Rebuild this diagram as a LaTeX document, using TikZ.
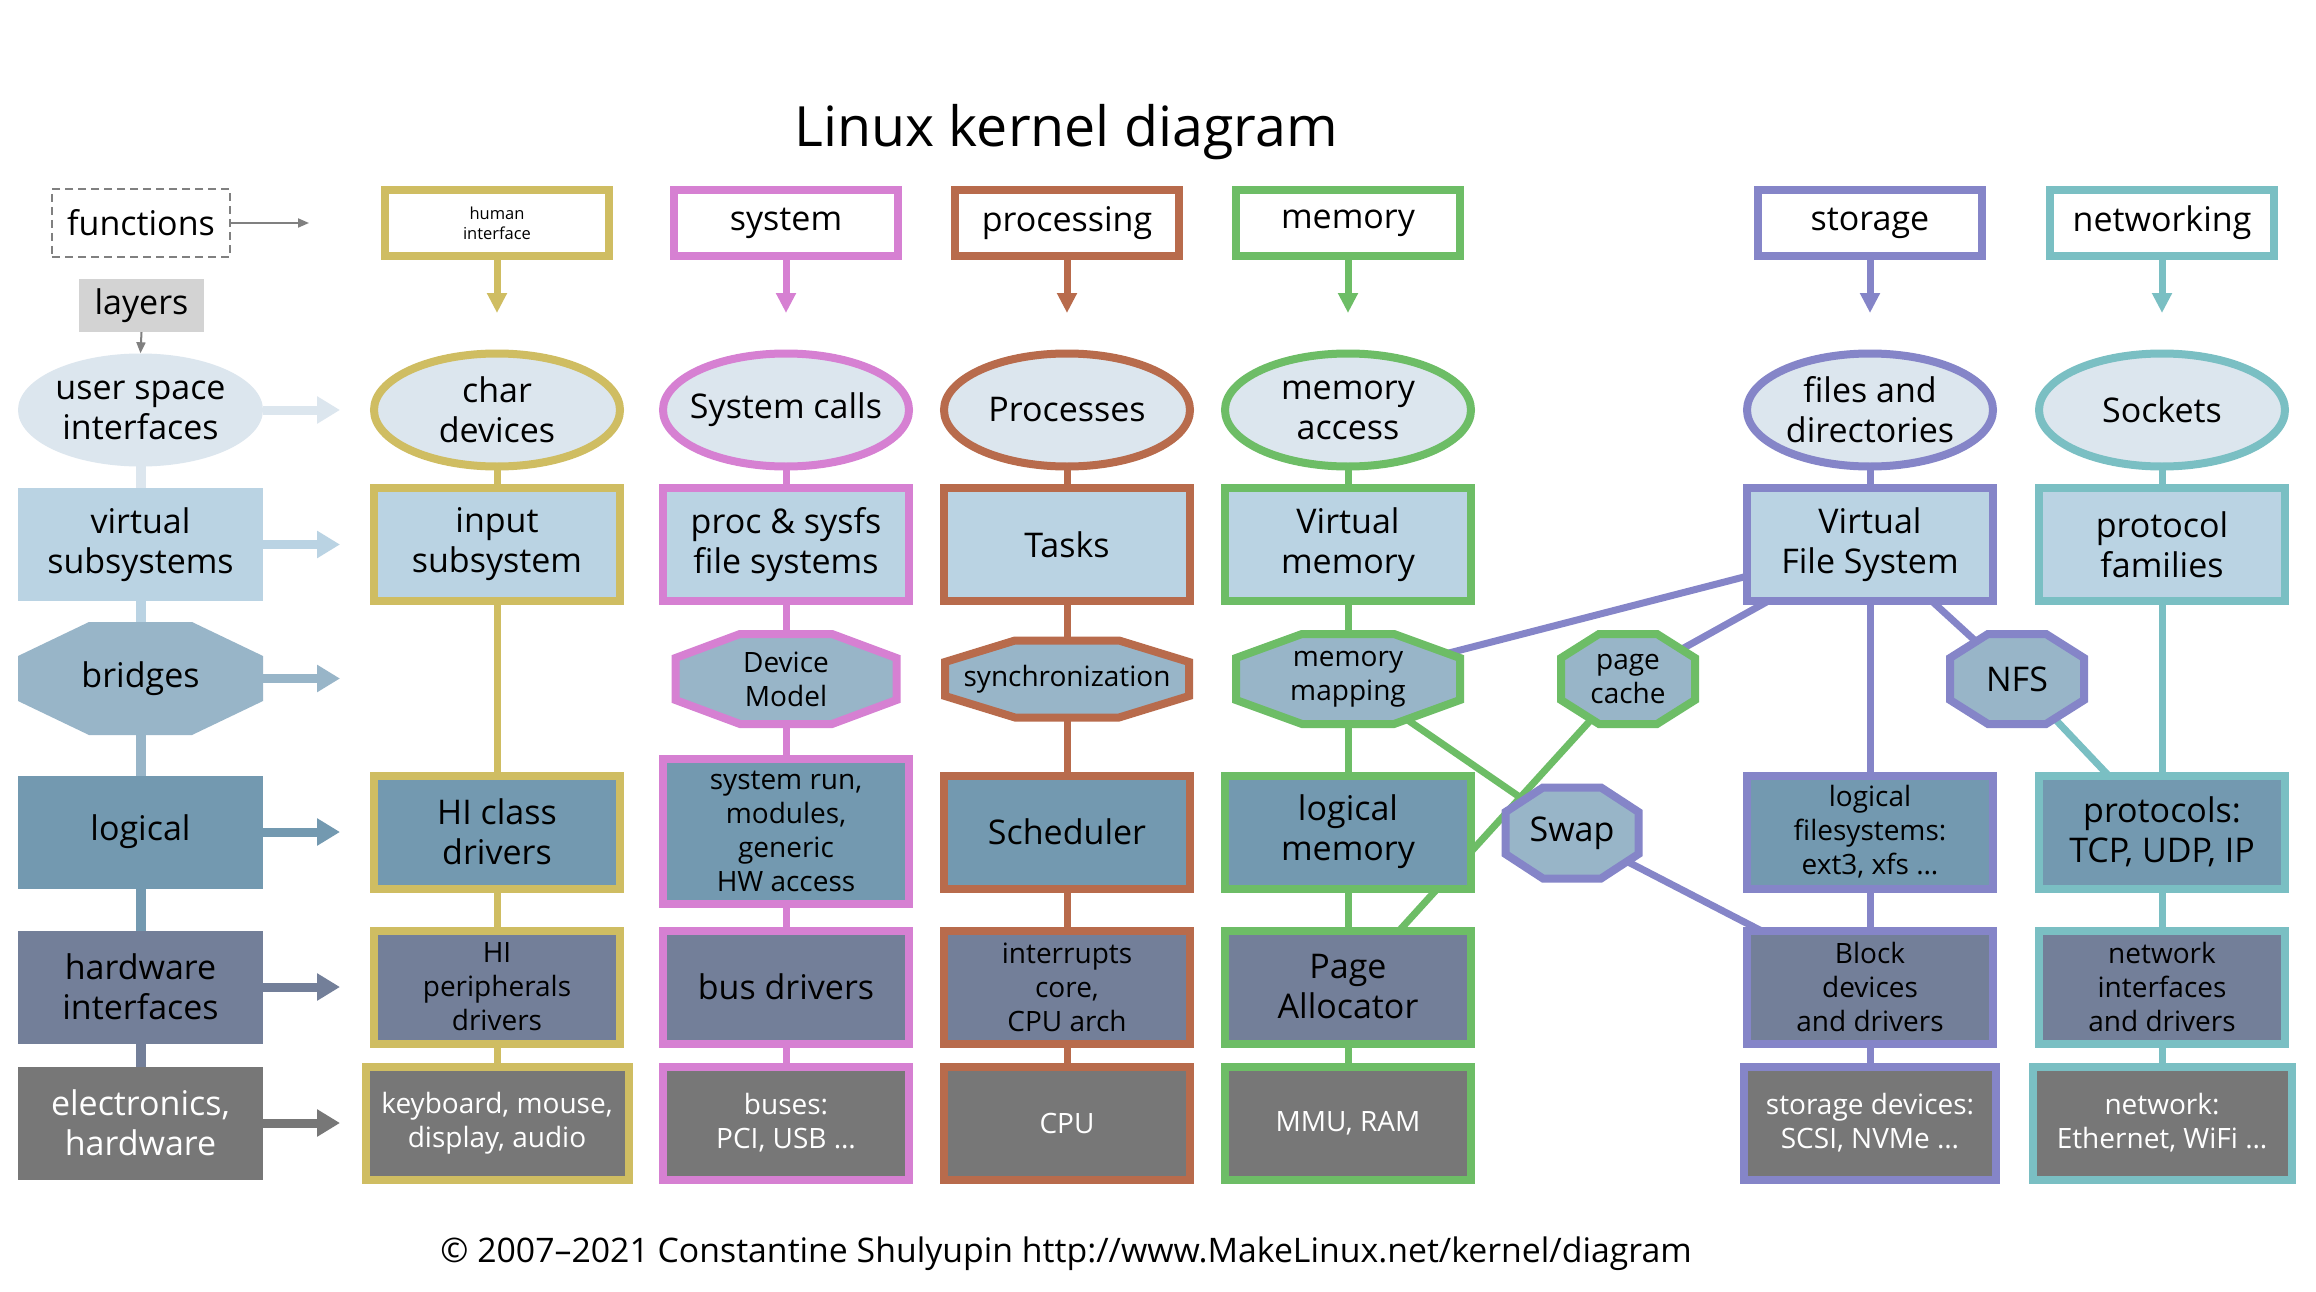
\documentclass[tikz,border=0pt]{standalone}
\usepackage{fontspec}
\setmainfont{Open Sans}
\usetikzlibrary{arrows.meta,shapes.geometric}
\definecolor{cHI}{HTML}{CFBD62}
\definecolor{cSYS}{HTML}{D680D2}
\definecolor{cPROC}{HTML}{B86B4C}
\definecolor{cMEM}{HTML}{6DBD66}
\definecolor{cSTO}{HTML}{8585C8}
\definecolor{cNET}{HTML}{7ABFC3}
\definecolor{fUser}{HTML}{DCE6EE}
\definecolor{fVirt}{HTML}{BAD3E3}
\definecolor{fBridge}{HTML}{98B5C8}
\definecolor{fLogic}{HTML}{7399B0}
\definecolor{fHW}{HTML}{737F99}
\definecolor{fElec}{HTML}{777777}
\definecolor{fLayers}{HTML}{D3D3D3}
\definecolor{fGrayLine}{HTML}{808080}
\pgfdeclarelayer{conn}
\pgfdeclarelayer{shapes}
\pgfsetlayers{conn,shapes,main}
% octagon: name, (x,y), half width, half height, inner half width, inner half height, path style, node style, text
\newcommand\octo[9]{%
  \node[base,#8,minimum width={2*#3pt},minimum height={2*#4pt}] (#1) at (#2) {#9};
  \begin{pgfonlayer}{shapes}
  \path[#7, shift={(#1.center)}] (-#5pt,#4pt) -- (#5pt,#4pt) -- (#3pt,#6pt) -- (#3pt,-#6pt)
     -- (#5pt,-#4pt) -- (-#5pt,-#4pt) -- (-#3pt,-#6pt) -- (-#3pt,#6pt) -- cycle;
  \end{pgfonlayer}}
\tikzset{
  ftbig/.style={font=\fontsize{34}{40}\selectfont},
  ftsmall/.style={font=\fontsize{28}{34}\selectfont},
  fttiny/.style={font=\fontsize{16.5}{20}\selectfont},
  fttitle/.style={font=\fontsize{55.5}{66}\selectfont},
  ftfoot/.style={font=\fontsize{33.8}{40}\selectfont},
  base/.style={align=center, inner sep=0pt, text=black},
  topbox/.style={base, ftbig, rectangle, draw=#1, line width=8pt, fill=white, minimum width=224pt, minimum height=66pt},
  ell/.style={base, ftbig, ellipse, draw=#1, line width=8pt, fill=fUser, minimum width=246pt, minimum height=113pt, inner sep=-12pt},
  cbox/.style={base, ftbig, rectangle, draw=#1, line width=8pt, minimum width=246pt, minimum height=113pt},
  layerbox/.style={base, ftbig, rectangle, minimum width=245pt, minimum height=113pt},
  octpath/.style={draw=#1, line width=8pt, fill=fBridge},
  cline/.style={draw=#1, line width=7pt},
  lline/.style={draw=#1, line width=10pt},
  tarrow/.style={draw=#1, line width=7pt, -{Triangle[length=20pt,width=19pt]}},
  larrow/.style={draw=#1, line width=9pt, -{Triangle[length=23pt,width=26pt]}},
  thinarrow/.style={draw=fGrayLine, line width=2pt, -{Triangle[length=11pt,width=9pt]}},
}
\begin{document}
\begin{tikzpicture}[x=1pt,y=-1pt]
\useasboundingbox (0,0) rectangle (2316,1292);
\begin{pgfonlayer}{conn}
\fill[white] (0,0) rectangle (2316,1292);
\end{pgfonlayer}

% title and footer
\node[base, fttitle] (title) at (1066,132) {Linux kernel diagram};
\node[base, ftfoot] (footer) at (1066,1254) {© 2007–2021 Constantine Shulyupin http://www.MakeLinux.net/kernel/diagram};

% legend
\node[base, ftbig, draw=fGrayLine, dashed, dash pattern=on 8pt off 5pt, line width=2pt, minimum width=178pt, minimum height=68pt] (functions) at (141,223) {functions};
\coordinate (fa) at (309,223);
\draw[thinarrow] (functions.east) -- (fa);
\node[base, ftbig, fill=fLayers, minimum width=125pt, minimum height=53pt] (layers) at (141.5,305.5) {layers};

% layer column
\node[layerbox, ellipse, fill=fUser, inner sep=-12pt] (lU) at (140.5,410) {user space\\interfaces};
\node[layerbox, fill=fVirt] (lV) at (140.5,544.5) {virtual\\subsystems};
\octo{lB}{140.5,678.5}{122.5}{56.5}{51.5}{22.5}{fill=fBridge}{ftbig}{bridges}
\node[layerbox, fill=fLogic] (lL) at (140.5,832) {logical};
\node[layerbox, fill=fHW] (lH) at (140.5,987) {hardware\\interfaces};
\node[layerbox, fill=fElec, text=white] (lE) at (140.5,1123) {electronics,\\hardware};
\draw[thinarrow] (layers.south) -- (lU.north);

\coordinate (aU) at (340,410);
\coordinate (aV) at (340,544.5);
\coordinate (aB) at (340,678.5);
\coordinate (aL) at (340,832);
\coordinate (aH) at (340,987);
\coordinate (aE) at (340,1123);
\draw[larrow=fUser] (lU.east) -- (aU);
\draw[larrow=fVirt] (lV.east) -- (aV);
\draw[larrow=fBridge] (lB.east) -- (aB);
\draw[larrow=fLogic] (lL.east) -- (aL);
\draw[larrow=fHW] (lH.east) -- (aH);
\draw[larrow=fElec] (lE.east) -- (aE);

% human interface column
\node[topbox=cHI, fttiny] (tHI) at (497,223) {human\\interface};
\coordinate (aHI) at (497,313);
\draw[tarrow=cHI] (tHI.south) -- (aHI);
\node[ell=cHI] (eHI) at (497,410) {char\\devices};
\node[cbox=cHI, fill=fVirt] (vHI) at (497,544.5) {input\\subsystem};
\node[cbox=cHI, fill=fLogic] (gHI) at (497,832) {HI class\\drivers};
\node[cbox=cHI, fill=fHW, ftsmall] (pHI) at (497,987) {HI\\peripherals\\drivers};
\node[cbox=cHI, fill=fElec, ftsmall, text=white, minimum width=263pt] (xHI) at (497,1123) {keyboard, mouse,\\display, audio};

% system column
\node[topbox=cSYS] (tSYS) at (786,223) {system};
\coordinate (aSYS) at (786,313);
\draw[tarrow=cSYS] (tSYS.south) -- (aSYS);
\node[ell=cSYS] (eSYS) at (786,410) {System calls};
\node[cbox=cSYS, fill=fVirt] (vSYS) at (786,544.5) {proc \& sysfs\\file systems};
\octo{bSYS}{786,679}{110.5}{45}{46}{21}{octpath=cSYS}{ftsmall}{Device\\Model}
\node[cbox=cSYS, fill=fLogic, ftsmall, minimum height=145pt] (gSYS) at (786,831.5) {system run,\\modules,\\generic\\HW access};
\node[cbox=cSYS, fill=fHW] (pSYS) at (786,987) {bus drivers};
\node[cbox=cSYS, fill=fElec, ftsmall, text=white] (xSYS) at (786,1123) {buses:\\PCI, USB …};

% processing column
\node[topbox=cPROC] (tPROC) at (1067,223) {processing};
\coordinate (aPROC) at (1067,313);
\draw[tarrow=cPROC] (tPROC.south) -- (aPROC);
\node[ell=cPROC] (ePROC) at (1067,410) {Processes};
\node[cbox=cPROC, fill=fVirt] (vPROC) at (1067,544.5) {Tasks};
\octo{bPROC}{1067,679}{122}{38.5}{52}{17}{octpath=cPROC}{ftsmall}{synchronization}
\node[cbox=cPROC, fill=fLogic] (gPROC) at (1067,832) {Scheduler};
\node[cbox=cPROC, fill=fHW, ftsmall] (pPROC) at (1067,987) {interrupts\\core,\\CPU arch};
\node[cbox=cPROC, fill=fElec, ftsmall, text=white] (xPROC) at (1067,1123) {CPU};

% memory column
\node[topbox=cMEM] (tMEM) at (1348,223) {memory};
\coordinate (aMEM) at (1348,313);
\draw[tarrow=cMEM] (tMEM.south) -- (aMEM);
\node[ell=cMEM] (eMEM) at (1348,410) {memory\\access};
\node[cbox=cMEM, fill=fVirt] (vMEM) at (1348,544.5) {Virtual\\memory};
\octo{bMEM}{1348,679}{112}{45}{46}{21}{octpath=cMEM}{ftsmall}{memory\\mapping}
\node[cbox=cMEM, fill=fLogic] (gMEM) at (1348,832) {logical\\memory};
\node[cbox=cMEM, fill=fHW] (pMEM) at (1348,987) {Page\\Allocator};
\node[cbox=cMEM, fill=fElec, ftsmall, text=white] (xMEM) at (1348,1123) {MMU, RAM};

% in-between nodes
\octo{bPC}{1628,679}{67}{45}{29}{21}{octpath=cMEM}{ftsmall}{page\\cache}
\octo{bSW}{1572,833}{66.5}{45.5}{29}{21}{octpath=cSTO}{ftbig}{Swap}
\octo{bNFS}{2017,679}{67}{45}{29}{21}{octpath=cSTO}{ftbig}{NFS}

% storage column
\node[topbox=cSTO] (tSTO) at (1870,223) {storage};
\coordinate (aSTO) at (1870,313);
\draw[tarrow=cSTO] (tSTO.south) -- (aSTO);
\node[ell=cSTO] (eSTO) at (1870,410) {files and\\directories};
\node[cbox=cSTO, fill=fVirt] (vSTO) at (1870,544.5) {Virtual\\File System};
\node[cbox=cSTO, fill=fLogic, ftsmall] (gSTO) at (1870,832) {logical\\filesystems:\\ext3, xfs …};
\node[cbox=cSTO, fill=fHW, ftsmall] (pSTO) at (1870,987) {Block\\devices\\and drivers};
\node[cbox=cSTO, fill=fElec, ftsmall, text=white, minimum width=252pt] (xSTO) at (1870,1123) {storage devices:\\SCSI, NVMe …};

% networking column
\node[topbox=cNET] (tNET) at (2162,223) {networking};
\coordinate (aNET) at (2162,313);
\draw[tarrow=cNET] (tNET.south) -- (aNET);
\node[ell=cNET] (eNET) at (2162,410) {Sockets};
\node[cbox=cNET, fill=fVirt] (vNET) at (2162,544.5) {protocol\\families};
\node[cbox=cNET, fill=fLogic] (gNET) at (2162,832) {protocols:\\TCP, UDP, IP};
\node[cbox=cNET, fill=fHW, ftsmall] (pNET) at (2162,987) {network\\interfaces\\and drivers};
\node[cbox=cNET, fill=fElec, ftsmall, text=white, minimum width=259pt] (xNET) at (2162,1123) {network:\\Ethernet, WiFi …};

% connectors (behind shapes)
\begin{pgfonlayer}{conn}
\draw[lline=fUser] (lU.center) -- (lV.center);
\draw[lline=fVirt] (lV.center) -- (lB.center);
\draw[lline=fBridge] (lB.center) -- (lL.center);
\draw[lline=fLogic] (lL.center) -- (lH.center);
\draw[lline=fHW] (lH.center) -- (lE.center);
\draw[cline=cHI] (eHI.center) -- (vHI.center) -- (gHI.center) -- (pHI.center) -- (xHI.center);
\draw[cline=cSYS] (eSYS.center) -- (vSYS.center) -- (bSYS.center) -- (gSYS.center) -- (pSYS.center) -- (xSYS.center);
\draw[cline=cPROC] (ePROC.center) -- (vPROC.center) -- (bPROC.center) -- (gPROC.center) -- (pPROC.center) -- (xPROC.center);
\draw[cline=cMEM] (eMEM.center) -- (vMEM.center) -- (bMEM.center) -- (gMEM.center) -- (pMEM.center) -- (xMEM.center);
\draw[cline=cSTO] (eSTO.center) -- (vSTO.center) -- (gSTO.center) -- (pSTO.center) -- (xSTO.center);
\draw[cline=cNET] (eNET.center) -- (vNET.center) -- (gNET.center) -- (pNET.center) -- (xNET.center);
\draw[cline=cSTO] (vSTO.center) -- (bMEM.center);
\draw[cline=cSTO] (vSTO.center) -- (bPC.center);
\draw[cline=cSTO] (vSTO.center) -- (bNFS.center);
\draw[cline=cNET] (bNFS.center) -- (gNET.center);
\draw[cline=cMEM] (bMEM.center) -- (bSW.center);
\draw[cline=cMEM] (bPC.center) -- (pMEM.center);
\draw[cline=cSTO] (bSW.center) -- (pSTO.center);
\end{pgfonlayer}
\end{tikzpicture}
\end{document}
